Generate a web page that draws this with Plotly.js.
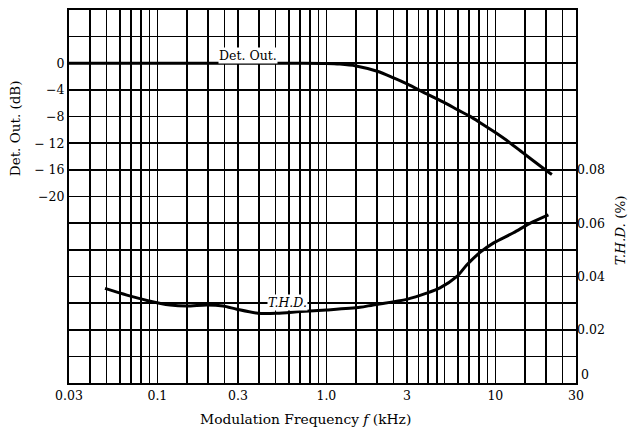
<!DOCTYPE html>
<html>
<head>
<meta charset="utf-8">
<script src="https://cdn.plot.ly/plotly-3.0.1.min.js"></script>
<style>
html,body{margin:0;padding:0;background:#fff;}
#chart{width:632px;height:431px;}
</style>
</head>
<body>
<div id="chart"></div>
<script>
// ---- data ----
var detFreq = [0.03, 0.1, 0.3, 0.7, 1.0, 1.2, 1.5, 2.0, 2.5, 3.0, 4.0, 5.0, 6.0, 7.0, 8.0, 10, 12, 15, 20, 21.6];
var detOut  = [0, 0, 0, 0, -0.03, -0.12, -0.4, -1.2, -2.2, -3.1, -4.7, -5.9, -7.0, -7.9, -8.8, -10.4, -11.8, -13.7, -16.1, -16.7];

var thdFreq = [0.049, 0.066, 0.088, 0.119, 0.149, 0.196, 0.245, 0.295, 0.394, 0.508, 0.70, 1.0, 1.58, 1.89, 2.99, 3.92, 4.7, 5.9, 6.77, 8.11, 9.72, 12.8, 16.0, 20.6];
var thdVal  = [0.0355, 0.033, 0.0309, 0.0293, 0.0289, 0.0293, 0.0289, 0.0277, 0.0262, 0.0262, 0.0268, 0.0274, 0.0284, 0.0293, 0.0314, 0.0337, 0.0357, 0.0399, 0.0443, 0.0490, 0.0525, 0.0564, 0.0599, 0.0631];

// ---- axis ticks / grid ----
var xGrid = [0.03,0.04,0.05,0.06,0.07,0.08,0.09,0.1,0.15,0.2,0.25,0.3,0.4,0.5,0.6,0.7,0.8,0.9,1.0,
             1.5,2,2.5,3,3.5,4,4.5,5,6,7,8,9,10,15,20,25,30];
var xLabelVals = [0.03, 0.1, 0.3, 1.0, 3, 10, 30];
var xLabelText = ['0.03', '0.1', '0.3', '1.0', '3', '10', '30'];

var yGrid = [8,4,0,-4,-8,-12,-16,-20,-24,-28,-32,-36,-40,-44,-48];
var yLabelVals = [0, -4, -8, -12, -16, -20];
var yLabelText = ['0', '\u22124', '\u22128', '\u2212 12', '\u2212 16', '\u221220'];

var y2Vals = [0, 0.02, 0.04, 0.06, 0.08];
var y2Text = ['0', '0.02', '0.04', '0.06', '0.08'];

function labelsFor(grid, vals, texts) {
  return grid.map(function (g) {
    for (var i = 0; i < vals.length; i++) {
      if (Math.abs(vals[i] - g) < 1e-9) return texts[i];
    }
    return '';
  });
}

var FONT = 'DejaVu Serif, Liberation Serif, serif';

var traces = [
  {x: detFreq, y: detOut, xaxis: 'x', yaxis: 'y', mode: 'lines',
   line: {color: '#000', width: 3, shape: 'spline', smoothing: 0.8}, hoverinfo: 'skip'},
  {x: thdFreq, y: thdVal, xaxis: 'x', yaxis: 'y2', mode: 'lines',
   line: {color: '#000', width: 3, shape: 'spline', smoothing: 0.8}, hoverinfo: 'skip'}
];

var layout = {
  width: 632, height: 431,
  margin: {l: 69, r: 56, t: 10, b: 48},
  paper_bgcolor: '#fff', plot_bgcolor: '#fff',
  showlegend: false,
  font: {family: FONT, size: 12.5, color: '#000'},
  xaxis: {
    type: 'log', range: [Math.log10(0.03), Math.log10(30)],
    tickmode: 'array', tickvals: xGrid, ticktext: labelsFor(xGrid, xLabelVals, xLabelText),
    showgrid: true, gridcolor: '#000', gridwidth: 1.6,
    showline: true, linecolor: '#000', linewidth: 2, mirror: true,
    ticks: '', zeroline: false, tickfont: {family: FONT, size: 12.5}
  },
  yaxis: {
    range: [-48, 8],
    tickmode: 'array', tickvals: yGrid, ticktext: labelsFor(yGrid, yLabelVals, yLabelText),
    showgrid: true, gridcolor: '#000', gridwidth: 1.6,
    showline: true, linecolor: '#000', linewidth: 2, mirror: true,
    ticks: '', zeroline: false, tickfont: {family: FONT, size: 12.5}
  },
  yaxis2: {
    overlaying: 'y', side: 'right', range: [0, 0.14],
    tickmode: 'array', tickvals: y2Vals.slice(1), ticktext: y2Text.slice(1),
    showgrid: false, zeroline: false, showline: false, ticks: '',
    tickfont: {family: FONT, size: 12.5}
  },
  annotations: [
    {text: 'Det. Out.', xref: 'paper', yref: 'paper', x: 0.353, y: 0.877,
     xanchor: 'center', yanchor: 'middle',
     showarrow: false, bgcolor: '#fff', borderpad: 0, font: {family: FONT, size: 12.5}},
    {text: '<i>T.H.D.</i>', xref: 'paper', yref: 'paper', x: 0.43, y: 0.217,
     xanchor: 'center', yanchor: 'middle',
     showarrow: false, bgcolor: '#fff', borderpad: 0, font: {family: FONT, size: 12.5}},
    {text: 'Det. Out. (dB)', xref: 'paper', yref: 'paper', x: -0.106, y: 0.684,
     xanchor: 'center', yanchor: 'middle',
     textangle: -90, showarrow: false, font: {family: FONT, size: 13.5}},
    {text: '<i>T.H.D.</i> (%)', xref: 'paper', yref: 'paper', x: 1.087, y: 0.41,
     xanchor: 'center', yanchor: 'middle',
     textangle: -90, showarrow: false, font: {family: FONT, size: 13.5}},
    {text: 'Modulation Frequency <i>f</i> (kHz)', xref: 'paper', yref: 'paper', x: 0.467, y: -0.0965,
     xanchor: 'center', yanchor: 'middle',
     showarrow: false, font: {family: FONT, size: 13.8}},
    // right-axis zero label sits just above the corner, as in the reference
    {text: y2Text[0], xref: 'paper', yref: 'y2', x: 1, y: y2Vals[0],
     xanchor: 'left', yanchor: 'bottom', xshift: 3, yshift: -1,
     showarrow: false, font: {family: FONT, size: 12.5}}
  ]
};

Plotly.newPlot('chart', traces, layout, {staticPlot: true, displayModeBar: false});
</script>
</body>
</html>
